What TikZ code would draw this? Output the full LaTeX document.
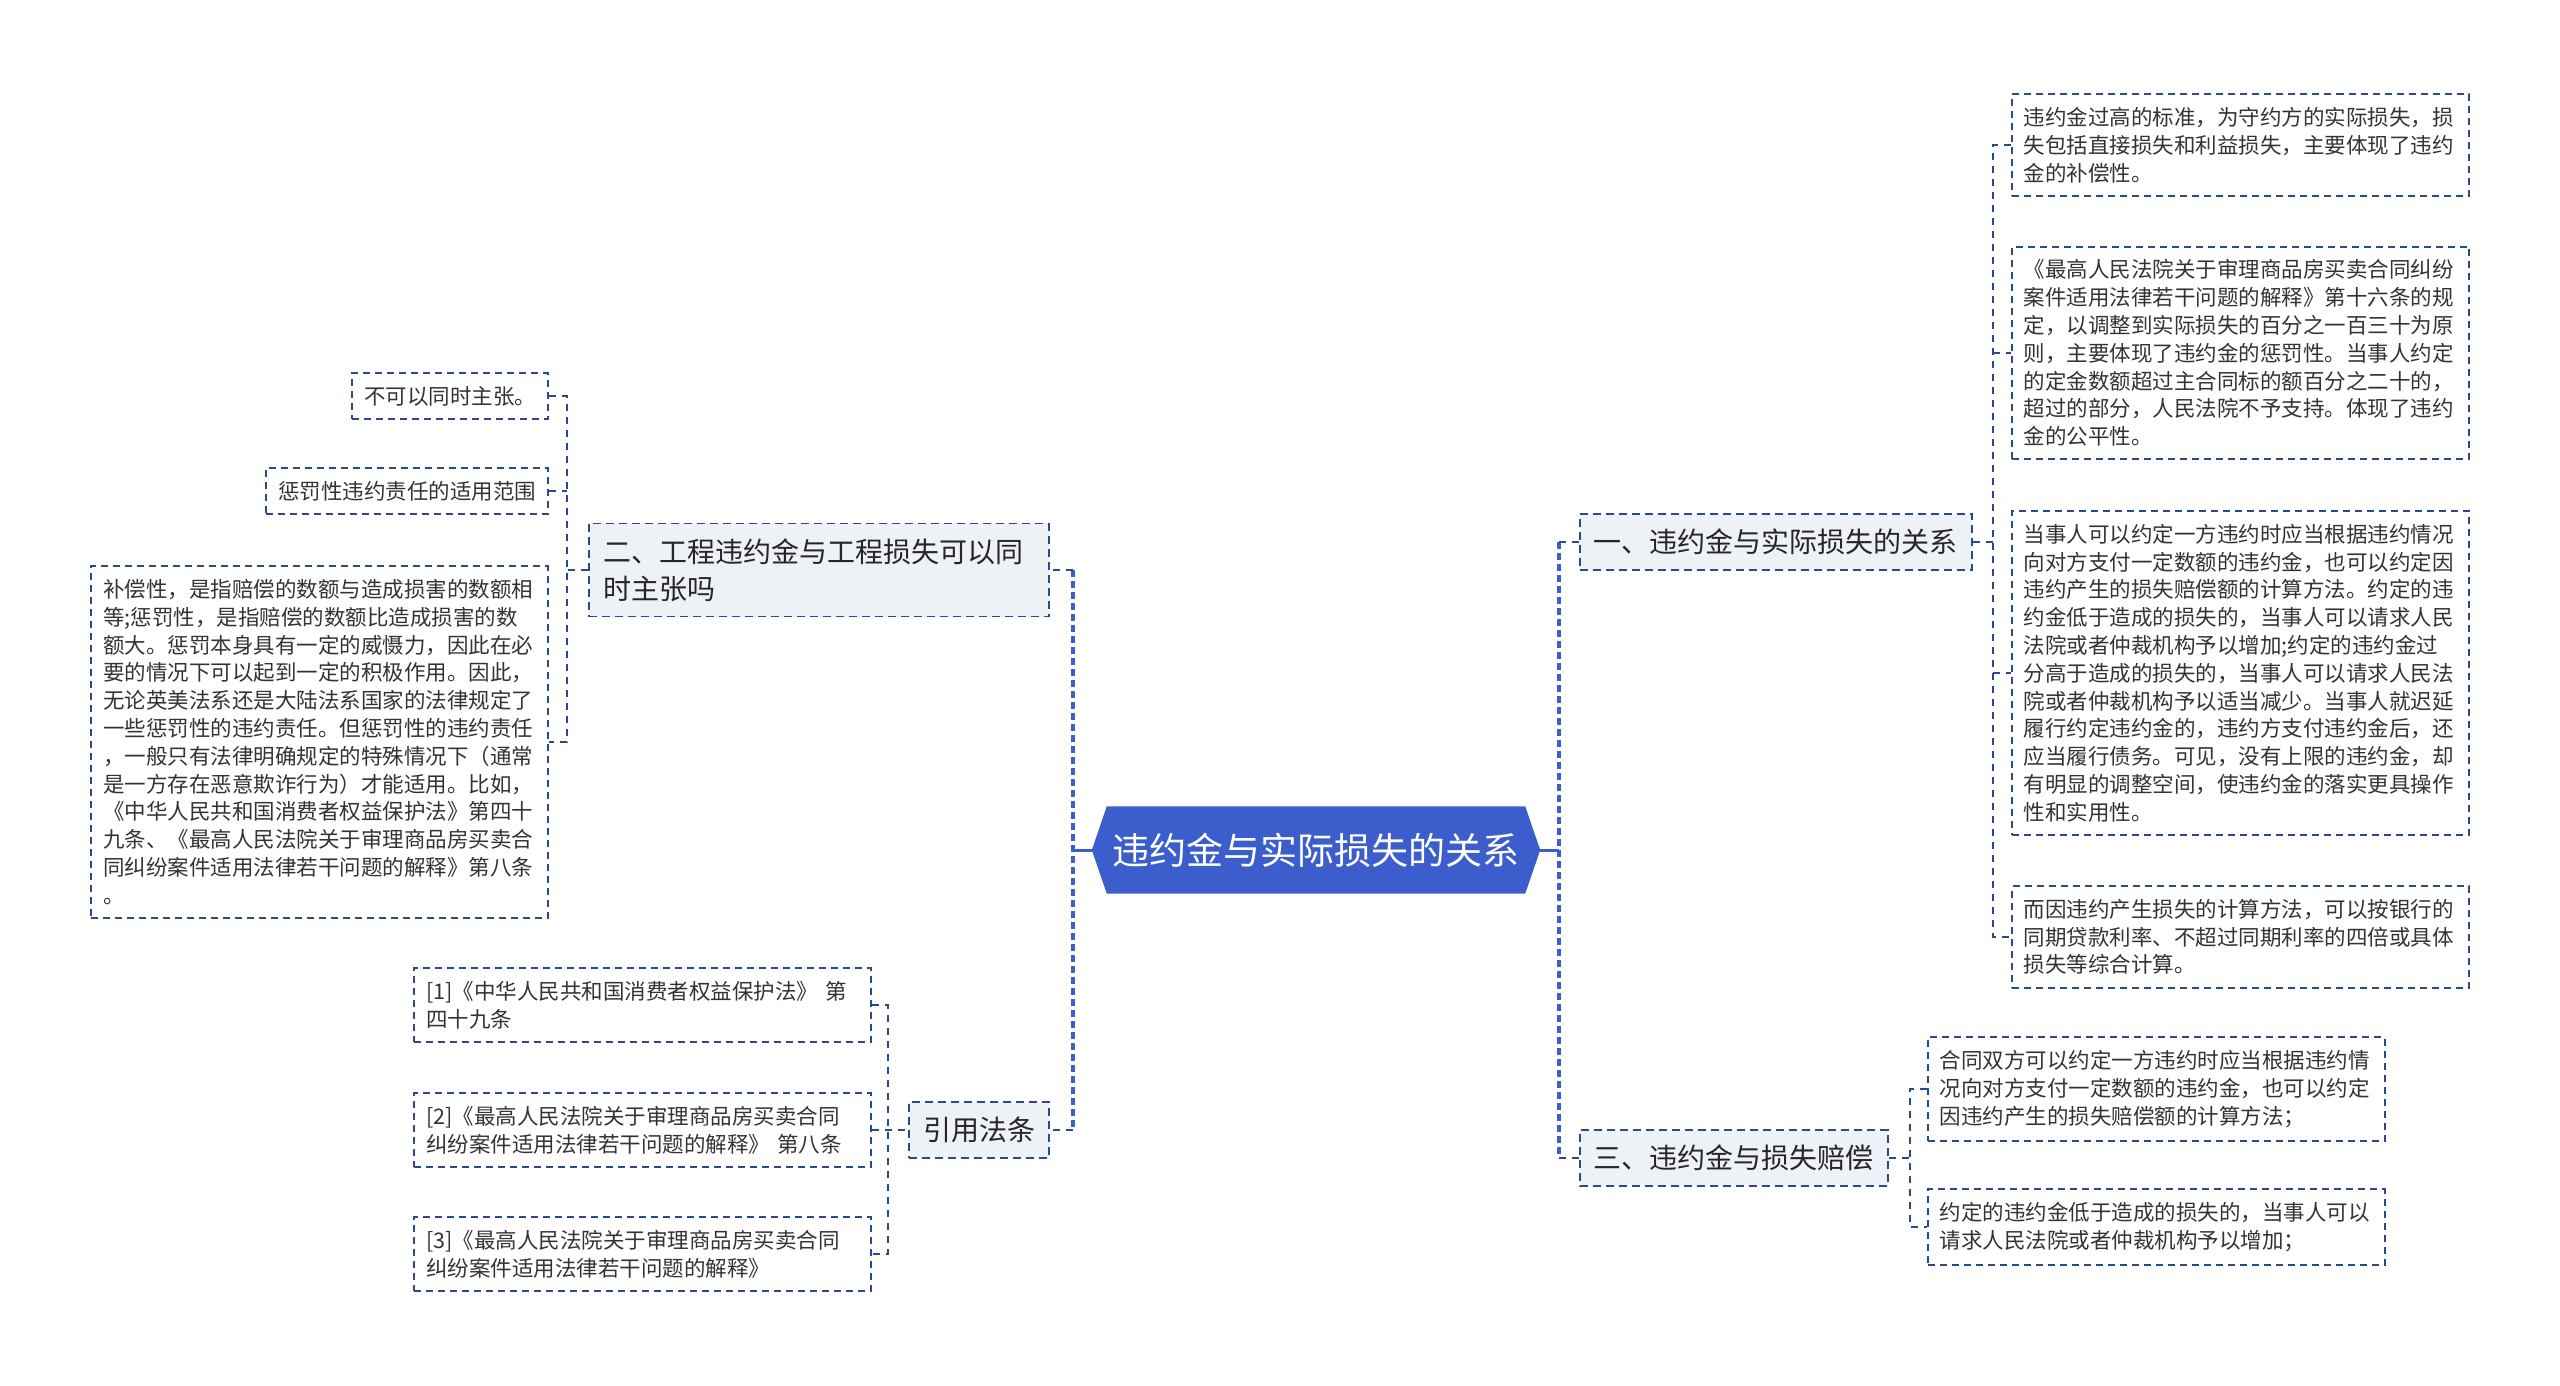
\documentclass[tikz,border=0pt]{standalone}
\usepackage{fontspec}
\setmainfont{Noto Sans CJK SC}
\usepackage{tikz}
\usetikzlibrary{positioning}
\usetikzlibrary{backgrounds}
\usepackage{xcolor}

\definecolor{rootblue}{RGB}{59,94,204}
\definecolor{boxline}{RGB}{43,72,146}
\definecolor{boxfill}{RGB}{238,241,246}
\definecolor{txtgray}{RGB}{51,51,51}

\begin{document}
\begin{tikzpicture}[x=1pt, y=-1pt,
  leaf/.style={draw=boxline, line width=1.8pt, dash pattern=on 7pt off 5pt, fill=white,
    text=txtgray, align=left, inner xsep=12pt, inner ysep=13pt,
    font=\fontsize{21.5pt}{27.8pt}\selectfont},
  wide/.style={text width=433pt},
  topic/.style={draw=boxline, line width=1.8pt, dash pattern=on 8pt off 5pt, fill=boxfill,
    text=black!85, align=left, inner xsep=14pt, inner ysep=15pt,
    font=\fontsize{28pt}{37pt}\selectfont},
  rootbox/.style={minimum width=448pt, minimum height=87pt, inner sep=0pt, text=white,
    font=\fontsize{37pt}{44pt}\selectfont},
  spine/.style={draw=rootblue, line width=3.5pt, dash pattern=on 7pt off 4pt},
  stub/.style={draw=rootblue, line width=3pt},
  link/.style={draw=boxline, line width=2pt, dash pattern=on 7pt off 6pt}]

\useasboundingbox (0,0) rectangle (2560,1386);

% root
\node[rootbox] (root) at (1316,850) {违约金与实际损失的关系};
\begin{scope}[on background layer]
\fill[rootblue] (root.west) -- ([xshift=15pt]root.north west) -- ([xshift=-15pt]root.north east)
  -- (root.east) -- ([xshift=-15pt]root.south east) -- ([xshift=15pt]root.south west) -- cycle;
\end{scope}

% topics
\node[topic, anchor=west] (one) at (1579,542) {一、违约金与实际损失的关系};
\node[topic, anchor=west] (three) at (1579,1158) {三、违约金与损失赔偿};
\node[topic, anchor=east, text width=432pt] (two) at (1050,570) {二、工程违约金与工程损失可以同\\时主张吗};
\node[topic, anchor=east] (cite) at (1050,1130) {引用法条};

% right leaves
\node[leaf, wide, anchor=west] (c1) at (2011,145) {违约金过高的标准，为守约方的实际损失，损\\失包括直接损失和利益损失，主要体现了违约\\金的补偿性。};
\node[leaf, wide, anchor=west] (c2) at (2011,353) {《最高人民法院关于审理商品房买卖合同纠纷\\案件适用法律若干问题的解释》第十六条的规\\定，以调整到实际损失的百分之一百三十为原\\则，主要体现了违约金的惩罚性。当事人约定\\的定金数额超过主合同标的额百分之二十的，\\超过的部分，人民法院不予支持。体现了违约\\金的公平性。};
\node[leaf, wide, anchor=west] (c3) at (2011,673) {当事人可以约定一方违约时应当根据违约情况\\向对方支付一定数额的违约金，也可以约定因\\违约产生的损失赔偿额的计算方法。约定的违\\约金低于造成的损失的，当事人可以请求人民\\法院或者仲裁机构予以增加;约定的违约金过\\分高于造成的损失的，当事人可以请求人民法\\院或者仲裁机构予以适当减少。当事人就迟延\\履行约定违约金的，违约方支付违约金后，还\\应当履行债务。可见，没有上限的违约金，却\\有明显的调整空间，使违约金的落实更具操作\\性和实用性。};
\node[leaf, wide, anchor=west] (c4) at (2011,937) {而因违约产生损失的计算方法，可以按银行的\\同期贷款利率、不超过同期利率的四倍或具体\\损失等综合计算。};

\node[leaf, wide, anchor=west] (d1) at (1927,1089) {合同双方可以约定一方违约时应当根据违约情\\况向对方支付一定数额的违约金，也可以约定\\因违约产生的损失赔偿额的计算方法；};
\node[leaf, wide, anchor=west] (d2) at (1927,1227) {约定的违约金低于造成的损失的，当事人可以\\请求人民法院或者仲裁机构予以增加；};

% left leaves
\node[leaf, anchor=east] (e1) at (549,396) {不可以同时主张。};
\node[leaf, anchor=east] (e2) at (549,491) {惩罚性违约责任的适用范围};
\node[leaf, wide, anchor=east] (e3) at (549,742) {补偿性，是指赔偿的数额与造成损害的数额相\\等;惩罚性，是指赔偿的数额比造成损害的数\\额大。惩罚本身具有一定的威慑力，因此在必\\要的情况下可以起到一定的积极作用。因此，\\无论英美法系还是大陆法系国家的法律规定了\\一些惩罚性的违约责任。但惩罚性的违约责任\\，一般只有法律明确规定的特殊情况下（通常\\是一方存在恶意欺诈行为）才能适用。比如，\\《中华人民共和国消费者权益保护法》第四十\\九条、《最高人民法院关于审理商品房买卖合\\同纠纷案件适用法律若干问题的解释》第八条\\。};

\node[leaf, wide, anchor=east] (f1) at (872,1005) {[1]《中华人民共和国消费者权益保护法》 第\\四十九条};
\node[leaf, wide, anchor=east] (f2) at (872,1130) {[2]《最高人民法院关于审理商品房买卖合同\\纠纷案件适用法律若干问题的解释》 第八条};
\node[leaf, wide, anchor=east] (f3) at (872,1254) {[3]《最高人民法院关于审理商品房买卖合同\\纠纷案件适用法律若干问题的解释》};

% main lines
\coordinate (lsp) at ([xshift=-19pt]root.west);
\coordinate (rsp) at ([xshift=19pt]root.east);
\draw[stub] (root.west) -- (lsp);
\draw[stub] (root.east) -- (rsp);
\draw[spine] (two.east -| lsp) -- (cite.east -| lsp);
\draw[spine] (one.west -| rsp) -- (three.west -| rsp);
\draw[link] (two.east -| lsp) -- (two.east);
\draw[link] (cite.east -| lsp) -- (cite.east);
\draw[link] (one.west -| rsp) -- (one.west);
\draw[link] (three.west -| rsp) -- (three.west);

% branch lines
\coordinate (osp) at ([xshift=20pt]one.east);
\draw[link] (one.east) -- (osp);
\draw[link] (c1.west) -| (osp) |- (c4.west);
\foreach \n in {c2,c3} \draw[link] (\n.west -| osp) -- (\n.west);

\coordinate (hsp) at ([xshift=21pt]three.east);
\draw[link] (d1.west) -| (hsp) |- (d2.west);
\draw[link] (three.east) -- (hsp);

\coordinate (tsp) at ([xshift=-21pt]two.west);
\draw[link] (two.west) -- (tsp);
\draw[link] (e1.east) -| (tsp) |- (e3.east);
\draw[link] (e2.east) -- (e2.east -| tsp);

\coordinate (fsp) at ([xshift=-20pt]cite.west);
\draw[link] (f1.east) -| (fsp) |- (f3.east);
\draw[link] (f2.east) -- (cite.west);

\end{tikzpicture}
\end{document}
